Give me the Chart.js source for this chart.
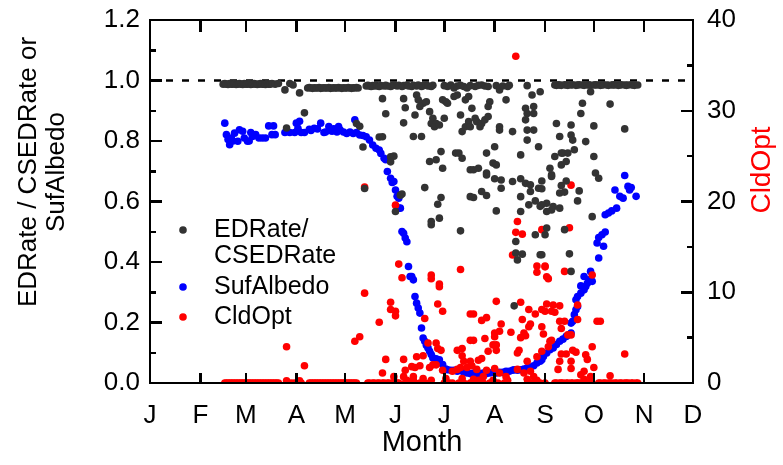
<!DOCTYPE html>
<html>
<head>
<meta charset="utf-8">
<script src="https://cdn.jsdelivr.net/npm/chart.js@4"></script>
<style>
  html, body { margin: 0; padding: 0; background: #fff; overflow: hidden; }
  #wrap { position: relative; width: 783px; height: 465px; }
  canvas { display: block; }
  #frame { position: absolute; left: 0; top: 0; width: 783px; height: 465px; pointer-events: none; }
  #frame div { position: absolute; background: #000; }
</style>
</head>
<body>
<div id="wrap">
  <canvas id="chart" width="783" height="465"></canvas>
  <div id="frame"></div>
</div>
<script>
// month ticks (day of year at the start of each month)
const monthStarts = [0, 31, 59, 90, 120, 151, 181, 212, 243, 273, 304, 334];
const monthLabels = ["J", "F", "M", "A", "M", "J", "J", "A", "S", "O", "N", "D"];

// [day of year, EDRate / CSEDRate]
const edRate = [
  [45,.988],[46,.99],[47,.988],[48,.987],[49,.99],[50,.988],[51,.988],[52,.99],[53,.987],[54,.988],[55,.99],[56,.988],[57,.987],[58,.99],[59,.988],[60,.988],[61,.99],[62,.987],[63,.988],[64,.99],[65,.988],[66,.987],[67,.988],[68,.99],[69,.988],[70,.988],[71,.987],[72,.99],[73,.988],[74,.988],[75,.99],[77,.988],[79,.99],
  [83,.969],[86,.99],[88,.985],[92,.959],[84,.843],[95,.893],
  [97,.975],[98,.977],[99,.975],[100,.974],[101,.976],[102,.975],[103,.975],[104,.977],[105,.974],[106,.975],[107,.976],[108,.975],[109,.975],[110,.977],[111,.974],[112,.975],[113,.976],[114,.975],[115,.975],[116,.977],[117,.975],[118,.974],[119,.976],[120,.975],[121,.975],[122,.977],[123,.975],[124,.974],[125,.976],[126,.975],[127,.977],[128,.975],
  [133,.982],[134,.984],[135,.982],[136,.98],[137,.983],[138,.982],[139,.984],[140,.982],[141,.98],[142,.983],[144,.982],[145,.984],[146,.982],[148,.98],[149,.983],[150,.985],[152,.982],[153,.984],[155,.98],[156,.983],[158,.985],[159,.982],[161,.98],[162,.984],[164,.982],[165,.985],[167,.98],[168,.983],[170,.985],[171,.982],[173,.98],[174,.984],
  [181,.983],[183,.98],[185,.985],[187,.975],[189,.982],[191,.984],[193,.98],[195,.975],[197,.983],[200,.98],[202,.984],[204,.985],[206,.982],[208,.98],[213,.983],[215,.969],[217,.982],[220,.98],[221,.984],[232,.983],
  [249,.985],[250,.984],[251,.986],[252,.985],[253,.984],[255,.986],[256,.985],[257,.984],[259,.985],[260,.986],[262,.984],[263,.985],[264,.986],[266,.985],[267,.984],[269,.985],[270,.986],[271,.984],[273,.985],[274,.986],[275,.985],[277,.984],[278,.985],[279,.986],[281,.985],[282,.984],[284,.985],[285,.986],[286,.985],[288,.984],[289,.985],[290,.986],[292,.985],[293,.984],[294,.985],[296,.986],[297,.985],[298,.984],[300,.985],
  [127,.858],[129,.849],[131,.78],[132,.643],[141,.813],[143,.814],[143,.94],[145,.89],[148,.748],[150,.75],[148,.731],[154,.621],[155,.625],[151,.567],[156,.94],[157,.91],[156,.86],
  [164,.952],[163,.886],[165,.936],[168,.925],[166,.914],[170,.93],[172,.897],[174,.875],[173,.858],[176,.858],[175,.847],[178,.853],[181,.875],[180,.936],[182,.93],[183,.925],[187,.947],[189,.952],[191,.886],[192,.831],[194,.847],[196,.864],[197,.847],[198,.908],[200,.875],[201,.864],[203,.847],[204,.858],[206,.87],[208,.881],[209,.93],[208,.914],[196,.947],[194,.936],
  [219,.936],[215,.847],[215,.836],[223,.831],[231,.908],[232,.891],[231,.87],[235,.952],[236,.914],[236,.891],[240,.963],[232,.836],[236,.836],[232,.803],[239,.781],[250,.858],[252,.815],[254,.76],[259,.853],[259,.82],[260,.803],[257,.76],[261,.771],[265,.891],[266,.925],[268,.798],[271,.963],[273,.85],[273,.749],[283,.922],[292,.84],
  [162,.815],[167,.815],[176,.738],[172,.732],[180,.71],[179,.765],[188,.76],[190,.76],[192,.743],[197,.705],[199,.705],[202,.71],[207,.76],[212,.781],[211,.727],[213,.721],[207,.694],[228,.754],[246,.71],[247,.688],[249,.749],[253,.76],[253,.721],[256,.732],[274,.694],
  [207,.688],[212,.675],[216,.671],[216,.644],[223,.666],[228,.675],[231,.66],[234,.655],[234,.633],[239,.644],[169,.646],[179,.613],[177,.591],[178,.545],[173,.534],[173,.523],[197,.616],[199,.613],[204,.633],[207,.62],[213,.569],[228,.616],[228,.567],[233,.589],[237,.602],[240,.584],[191,.503],[237,.49],[225,.468],[225,.43],[229,.426],[226,.407],[240,.424],
  [247,.683],[241,.668],[256,.668],[253,.653],[241,.642],[252,.628],[255,.631],[264,.635],[263,.602],[244,.594],[248,.583],[247,.572],[252,.578],[244,.567],[241,.589],[276,.677],[272,.55],[244,.512],[243,.49],[255,.507],[241,.424],[258,.427],[259,.369],[224,.255]
];

// [day of year, surface albedo]
const sufAlbedo = [
  [46,.859],[47,.821],[48,.805],[49,.788],[50,.81],[51,.80],[52,.826],[54,.799],[55,.837],[57,.832],[58,.81],[60,.799],[61,.80],[62,.828],[63,.815],[64,.82],[65,.821],[67,.81],[69,.81],[71,.81],[73,.85],[75,.821],[76,.85],[77,.821],
  [83,.828],[86,.828],[89,.828],[90,.859],[91,.842],[92,.865],[93,.828],[95,.828],[98,.839],[99,.835],[101,.842],[103,.84],[105,.859],[107,.828],[108,.83],[110,.848],[111,.835],[112,.832],[113,.84],[114,.839],[115,.83],[116,.848],
  [117,.836],[119,.83],[121,.825],[123,.83],[125,.825],[126,.87],[127,.828],[129,.82],[131,.818],[133,.814],[135,.803],[137,.787],[139,.776],[141,.77],[142,.759],[144,.743],[145,.738],[146,.699],[148,.677],[149,.663],[150,.666],[151,.638],[152,.617],[153,.611],[153,.578],[154,.578],[155,.501],[156,.495],[157,.479],[158,.467],[159,.385],[160,.352],[161,.352],[162,.341],[163,.286],[164,.264],[165,.248],[166,.231],
  [167,.182],[168,.149],[169,.138],[170,.125],[171,.116],[172,.105],[173,.094],[174,.083],[176,.08],[178,.077],[180,.061],[182,.046],[183,.044],[185,.042],[187,.042],[189,.039],[191,.042],[193,.035],[195,.033],[197,.031],[199,.033],[201,.031],[203,.031],[205,.033],[207,.031],[209,.033],[211,.035],[213,.033],[215,.035],[217,.035],[219,.039],[221,.039],[223,.042],[224,.044],[226,.042],[228,.044],[230,.046],[232,.05],[234,.053],[236,.057],[238,.066],[240,.072],
  [241,.077],[242,.088],[244,.099],[246,.11],[248,.116],[250,.127],[252,.138],[254,.145],[256,.154],[258,.16],[259,.165],[259,.198],[260,.204],[261,.226],[262,.242],[263,.253],[262,.275],[263,.286],[265,.297],[265,.321],[267,.308],[268,.319],[269,.33],[270,.341],
  [267,.352],[271,.369],[272,.336],[276,.413],[275,.463],[276,.481],[278,.49],[279,.452],[280,.499],[280,.556],[282,.562],[284,.569],[287,.578],[289,.617],[291,.611],[286,.638],[292,.686],[294,.65],[295,.638],[296,.646],[299,.617]
];

// [day of year, cloud optical depth]
const cldOpt = [
  [46,0],[47,0],[48,0],[49,0],[50,0],[51,0],[52,0],[53,0],[54,0],[55,0],[56,0],[57,0],[58,0],[59,0],[60,0],[61,0],[62,0],[63,0],[64,0],[65,0],[66,0],[67,0],[68,0],[69,0],[70,0],[71,0],[72,0],[73,0],[74,0],[75,0],[76,0],[77,0],[78,0],[79,0],
  [85,0],[87,0],[89,0],[91,0],[93,0],
  [98,0],[99,0],[100,0],[101,0],[102,0],[103,0],[104,0],[105,0],[106,0],[107,0],[108,0],[109,0],[110,0],[111,0],[112,0],[113,0],[114,0],[115,0],[116,0],[117,0],[118,0],[119,0],[120,0],[121,0],[122,0],[123,0],[124,0],[125,0],[126,0],[127,0],
  [134,0],[135,0],[137,0],[138,0],[140,0],[141,0],[143,0],[144,0],[146,0],[147,0],[149,0],[150,0],[152,0],[153,0],
  [157,0],[160,0],[163,0],[166,0],[169,0],[172,0],[181,0],[184,0],[186,0],[190,0],[193,0],[197,0],[201,0],[205,0],[209,0],[214,0],[218,0],
  [234,0],[236,0],[238,0],[240,0],[243,0],
  [249,0],[250,0],[252,0],[253,0],[254,0],[256,0],[257,0],[259,0],[260,0],[262,0],[263,0],[264,0],[266,0],[267,0],[269,0],[270,0],[271,0],[276,0],[277,0],[279,0],[280,0],[282,0],[283,0],[284,0],[286,0],[287,0],[289,0],[290,0],[292,0],[293,0],[294,0],[296,0],[297,0],[299,0],[300,0],
  [84,4.0],[95,1.9],[84,0.24],[92,0.24],[126,4.6],[129,5.1],[132,21.6],[132,9.9],[141,6.7],[143,1.1],[145,2.6],[148,8.9],[148,8.1],[151,7.9],[151,7.4],[151,19.6],[153,13.1],[155,11.6],[156,2.6],[157,1.4],[156,0.7],[161,1.8],[162,0.7],
  [226,17.8],[225,16.6],[229,16.4],[223,14.1],[173,11.9],[173,11.5],[191,12.5],[178,10.9],[238,12.9],[238,12.2],[241,16.9],[243,12.9],
  [259,21.8],[258,17.1],[243,12.8],[244,11.7],[245,11.5],[255,12.3],[272,11.9],[225,36.0],
  [177,8.7],[180,7.9],[169,7.1],[197,7.6],[199,7.6],[213,9.0],[204,6.9],[207,7.2],[216,6.5],[228,8.9],[233,8.1],[237,7.6],[229,7.0],[234,6.5],[233,6.2],[222,5.6],[230,5.5],[228,5.0],[231,5.2],[212,5.5],[215,5.7],[212,5.1],[206,4.9],[208,3.5],[197,4.7],[199,4.7],[211,4.2],[213,4.2],[213,3.6],[227,3.6],[226,3.3],
  [171,4.4],[176,4.4],[177,3.8],[179,3.6],[189,3.6],[192,3.8],[192,3.0],[168,3.0],[164,2.9],[204,2.7],[202,2.5],[197,2.4],[193,2.4],[232,2.4],[238,2.9],[163,1.7],[166,1.9],[172,1.7],[174,2.0],[176,2.0],[180,1.4],[186,1.3],[189,1.5],[191,1.7],[195,1.7],[198,1.9],[201,1.5],[207,1.4],[212,1.6],[215,1.1],[219,0.7],[226,1.5],[230,1.1],[234,1.3],[236,0.7],
  [150,0.7],[158,0.3],[162,0.3],[168,0.5],[173,0.3],[182,0.5],[192,0.5],[199,0.4],[202,0.3],[205,0.7],[211,0.3],[220,0.3],[232,0.4],[238,0.3],[178,10.6],
  [244,8.7],[248,8.6],[247,7.9],[249,7.8],[252,8.5],[241,8.1],[243,7.9],[252,6.8],[255,6.8],[253,6.0],[257,5.3],[263,7.0],[263,8.6],[241,6.2],[242,5.4],[246,4.6],[247,4.7],[245,4.0],[259,5.3],[275,6.8],[277,6.8],[272,4.0],[292,3.2],
  [241,3.5],[253,3.2],[256,3.2],[260,3.6],[262,3.4],[269,2.6],[268,3.1],[252,2.4],[259,2.4],[259,1.6],[267,1.3],[273,1.7],[251,1.5],[265,0.9],[271,0.7],[283,0.8],[267,0.4]
];

const refLine = [[0, 1], [334, 1]];

const FONT = "'Liberation Sans', Arial, sans-serif";
const GRAY = "#333333";
const BLUE = "#0000ff";
const RED = "#ff0000";
const LW = 2.5;

const toXY = (arr) => arr.map(([x, y]) => ({ x, y }));

// titles and the legend inside the plot
const decorPlugin = {
  id: "decor",
  afterDraw(chart) {
    const { ctx } = chart;
    ctx.save();
    ctx.fillStyle = "#000";
    ctx.textAlign = "center";
    ctx.textBaseline = "middle";
    ctx.font = "26px " + FONT;
    [["EDRate / CSEDRate or", 29], ["SufAlbedo", 57]].forEach(([t, x]) => {
      ctx.save();
      ctx.translate(x, 172);
      ctx.rotate(-Math.PI / 2);
      ctx.fillText(t, 0, 0);
      ctx.restore();
    });
    ctx.font = "28px " + FONT;
    ctx.save();
    ctx.fillStyle = RED;
    ctx.translate(762, 170);
    ctx.rotate(-Math.PI / 2);
    ctx.fillText("CldOpt", 0, 0);
    ctx.restore();
    ctx.font = "29px " + FONT;
    ctx.fillText("Month", 422, 443);

    const items = [
      { color: GRAY, lines: ["EDRate/", "CSEDRate"], y: 230 },
      { color: BLUE, lines: ["SufAlbedo"], y: 287 },
      { color: RED, lines: ["CldOpt"], y: 317 },
    ];
    ctx.font = "25px " + FONT;
    ctx.textAlign = "left";
    items.forEach((it) => {
      ctx.fillStyle = it.color;
      ctx.beginPath();
      ctx.arc(183, it.y, 3.8, 0, Math.PI * 2);
      ctx.fill();
      ctx.fillStyle = "#000";
      it.lines.forEach((l, i) => ctx.fillText(l, 214, it.y + i * 26));
    });
    ctx.restore();
  },
};

const dot = (color, data, axis, order) => ({
  data: toXY(data),
  yAxisID: axis,
  backgroundColor: color,
  borderWidth: 0,
  pointRadius: 3.8,
  pointHoverRadius: 3.8,
  showLine: false,
  order,
});

const tickFont = { size: 26, family: FONT };
const hidden = { display: false, drawTicks: false };
// fixed axis boxes; drop the label overhang padding so the plot spans 20..383
const fixBox = (w, h) => (s) => {
  if (w !== null) s.width = w;
  if (h !== null) s.height = h;
  s.paddingTop = 0;
  s.paddingBottom = 0;
  s.paddingLeft = 0;
  s.paddingRight = 0;
};

const chart = new Chart(document.getElementById("chart"), {
  type: "scatter",
  data: {
    datasets: [
      dot(GRAY, edRate, "y", 0),
      dot(RED, cldOpt, "y2", 1),
      dot(BLUE, sufAlbedo, "y", 2),
      {
        data: toXY(refLine),
        yAxisID: "y",
        showLine: true,
        borderColor: "#000",
        borderWidth: LW,
        borderDash: [7, 9],
        pointRadius: 0,
        order: 3,
      },
    ],
  },
  options: {
    responsive: false,
    animation: false,
    devicePixelRatio: 1,
    layout: { padding: { top: 20, left: 0, right: 0, bottom: 0 } },
    plugins: { legend: { display: false }, tooltip: { enabled: false } },
    scales: {
      x: {
        type: "linear", position: "bottom", min: 0, max: 334,
        grid: hidden, border: { display: false },
        afterBuildTicks: (s) => { s.ticks = monthStarts.map((v) => ({ value: v })); },
        afterFit: fixBox(null, 82),
        ticks: {
          autoSkip: false, maxRotation: 0, padding: 17, color: "#000", font: tickFont,
          callback: (v, i) => monthLabels[i],
        },
      },
      y: {
        position: "left", min: 0, max: 1.2,
        grid: hidden, border: { display: false },
        afterFit: fixBox(150, null),
        ticks: {
          stepSize: 0.2, padding: 10, color: "#000", font: tickFont,
          callback: (v) => v.toFixed(1),
        },
      },
      y2: {
        position: "right", min: 0, max: 40,
        grid: hidden, border: { display: false },
        afterFit: fixBox(90, null),
        ticks: { stepSize: 10, padding: 14, color: "#000", font: tickFont },
      },
    },
  },
  plugins: [decorPlugin],
});

// plot box and inward ticks as an HTML layer placed from the chart's own scales
function buildFrame(chart) {
  const layer = document.getElementById("frame");
  const a = chart.chartArea;
  const { x: sx, y: sy, y2: sy2 } = chart.scales;
  const h = LW / 2;
  const bar = (left, top, width, height) => {
    const d = document.createElement("div");
    d.style.left = left + "px";
    d.style.top = top + "px";
    d.style.width = width + "px";
    d.style.height = height + "px";
    layer.appendChild(d);
  };
  bar(a.left - h, a.top - h, a.right - a.left + LW, LW);
  bar(a.left - h, a.bottom - h, a.right - a.left + LW, LW);
  bar(a.left - h, a.top - h, LW, a.bottom - a.top + LW);
  bar(a.right - h, a.top - h, LW, a.bottom - a.top + LW);
  monthStarts.forEach((d) => {
    const px = sx.getPixelForValue(d);
    bar(px - h, a.bottom - 10, LW, 10);
    bar(px - h, a.top, LW, 12);
  });
  sy.ticks.forEach((t) => {
    const py = sy.getPixelForValue(t.value);
    bar(a.left, py - h, 12, LW);
    const mid = sy.getPixelForValue(t.value + 0.1);
    if (t.value + 0.1 < 1.2) bar(a.left, mid - h, 6, LW);
  });
  sy2.ticks.forEach((t) => {
    const py = sy2.getPixelForValue(t.value);
    bar(a.right - 12, py - h, 12, LW);
    if (t.value + 5 < 40) {
      const mid = sy2.getPixelForValue(t.value + 5);
      bar(a.right - 6, mid - h, 6, LW);
    }
  });
}
buildFrame(chart);
</script>
</body>
</html>
